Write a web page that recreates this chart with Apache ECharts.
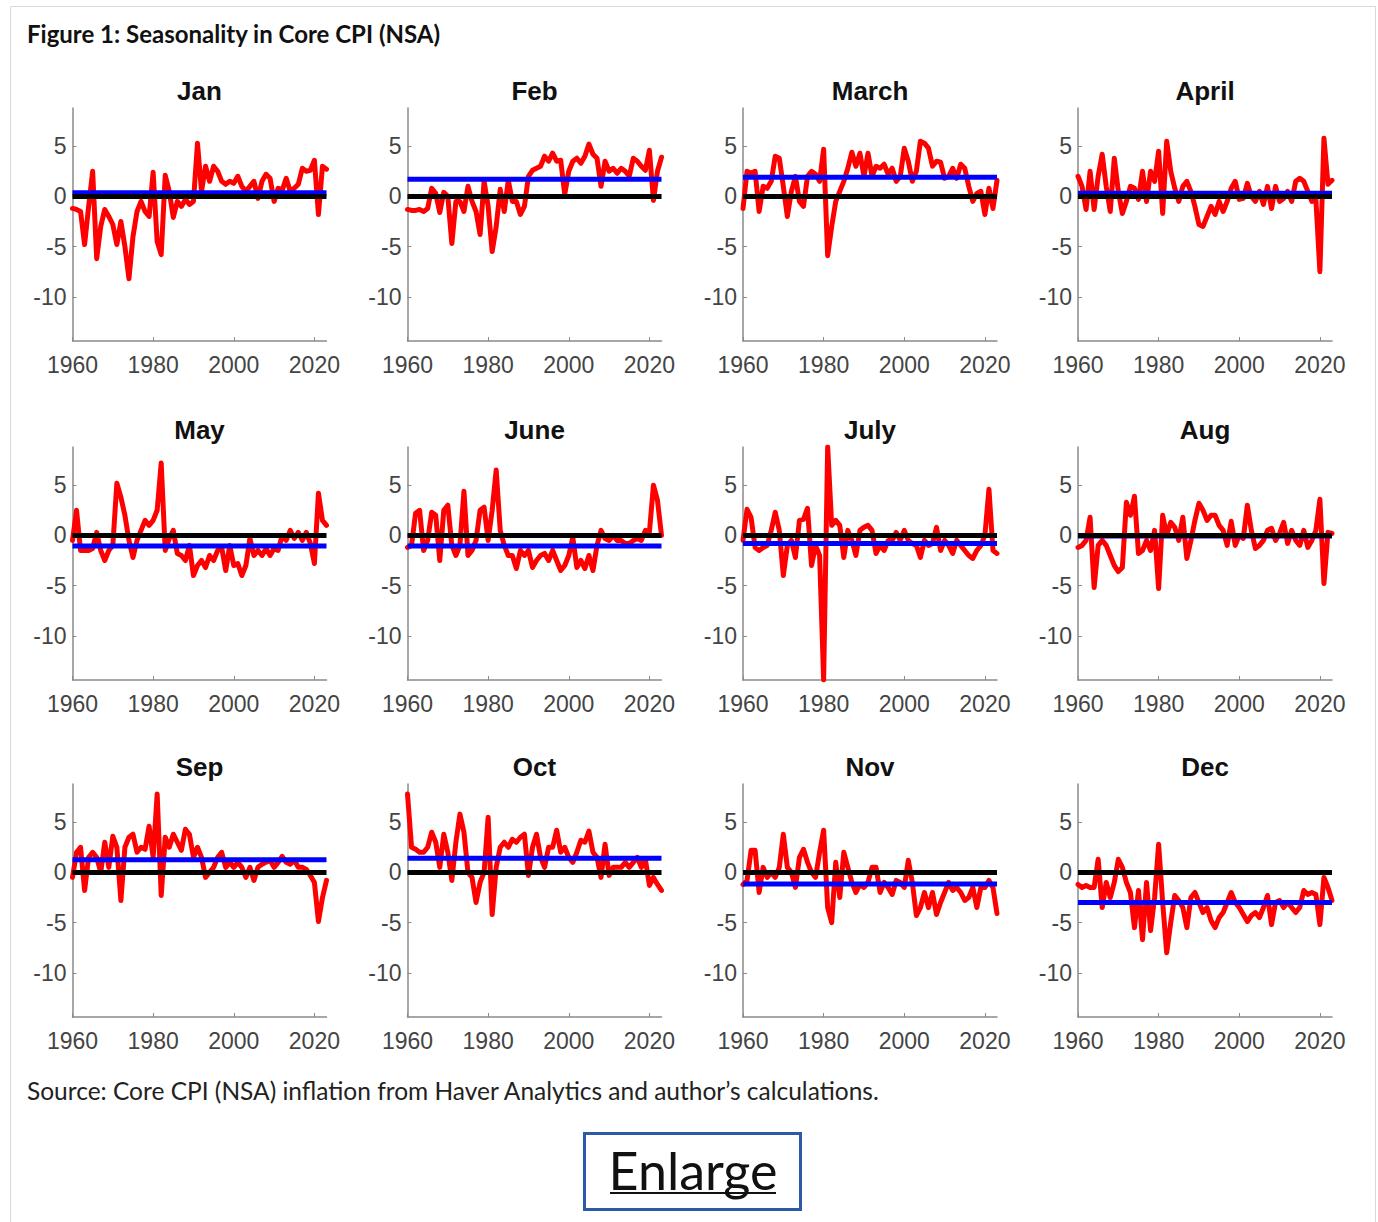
<!DOCTYPE html>
<html>
<head>
<meta charset="utf-8">
<title>Figure 1: Seasonality in Core CPI (NSA)</title>
<script src="https://cdn.jsdelivr.net/npm/echarts@6/dist/echarts.min.js"></script>
<style>
  html, body { margin: 0; padding: 0; background: #fff; }
  #chart { width: 1378px; height: 1222px; }
</style>
</head>
<body>
<div id="chart"></div>
<script>
const years = [
  1960, 1961, 1962, 1963, 1964, 1965, 1966, 1967, 1968, 1969,
  1970, 1971, 1972, 1973, 1974, 1975, 1976, 1977, 1978, 1979,
  1980, 1981, 1982, 1983, 1984, 1985, 1986, 1987, 1988, 1989,
  1990, 1991, 1992, 1993, 1994, 1995, 1996, 1997, 1998, 1999,
  2000, 2001, 2002, 2003, 2004, 2005, 2006, 2007, 2008, 2009,
  2010, 2011, 2012, 2013, 2014, 2015, 2016, 2017, 2018, 2019,
  2020, 2021, 2022, 2023
]

const monthNames = ['Jan', 'Feb', 'March', 'April', 'May', 'June', 'July', 'Aug', 'Sep', 'Oct', 'Nov', 'Dec']

const jan = [
  -1.2, -1.3, -1.5, -4.8, -1.0, 2.5, -6.2, -3.0, -1.3, -2.0,
  -2.8, -4.8, -2.5, -5.0, -8.2, -4.0, -1.5, -0.5, -1.5, -2.0,
  2.4, -4.5, -5.8, 2.1, 0.5, -2.1, -0.5, -1.0, -0.3, -0.8,
  -0.5, 5.3, 0.5, 3.0, 1.5, 3.0, 2.5, 1.5, 1.2, 1.5,
  1.3, 2.0, 1.0, 0.5, 1.0, 1.5, -0.2, 1.5, 2.2, 1.8,
  -0.5, 0.8, 0.6, 1.8, 0.5, 0.8, 1.2, 2.8, 2.5, 2.6,
  3.6, -1.8, 3.0, 2.7
]
const feb = [
  -1.3, -1.4, -1.4, -1.3, -1.5, -1.2, 0.8, 0.3, -1.6, 0.4,
  0.0, -4.7, -0.5, -0.5, -1.5, 1.0, -0.5, -1.5, -3.8, 1.5,
  -1.0, -5.5, -3.0, 0.7, -1.5, 1.6, -0.5, -0.5, -1.8, -1.0,
  2.0, 2.6, 2.8, 3.0, 4.0, 3.5, 4.3, 3.5, 3.6, 0.2,
  2.5, 3.5, 3.8, 3.3, 4.0, 5.2, 4.2, 3.8, 1.0, 3.5,
  2.5, 2.8, 2.3, 2.8, 2.5, 2.0, 3.8, 3.5, 3.0, 2.6,
  4.6, -0.4, 2.5, 3.9
]
const mar = [
  -1.2, 2.5, 2.3, 2.5, -1.5, 1.0, 0.8, 1.5, 4.0, 3.8,
  1.0, -2.0, 0.5, 2.0, -0.5, -1.0, 2.0, 2.5, 2.2, 1.5,
  4.7, -5.9, -3.0, -0.5, 0.5, 1.5, 2.8, 4.4, 3.0, 4.3,
  2.0, 4.3, 2.0, 3.0, 2.8, 3.2, 2.2, 2.8, 1.5, 2.0,
  4.8, 3.5, 1.5, 2.5, 5.5, 5.3, 4.8, 3.0, 3.5, 3.4,
  1.8, 2.0, 2.8, 1.8, 3.2, 2.8, 1.0, -0.5, 0.3, 0.5,
  -1.8, 0.8, -1.2, 1.6
]
const apr = [
  2.0, 1.0, -1.3, 2.5, -1.3, 2.0, 4.2, 1.0, -1.5, 3.8,
  0.5, -1.7, -0.5, 1.0, 0.8, -0.3, 2.5, -0.5, 2.5, 1.5,
  4.5, -1.7, 5.5, 2.5, 0.8, -0.5, 1.0, 1.5, 0.5, -1.0,
  -2.8, -3.0, -2.0, -1.0, -1.8, -0.5, -1.5, -0.5, 0.8, 1.5,
  -0.3, -0.2, 1.3, 0.0, -0.5, 0.5, -0.8, 1.0, -1.2, 1.0,
  -0.5, -0.2, 0.5, -0.5, 1.5, 1.8, 1.5, 0.5, -0.5, -0.3,
  -7.5, 5.8, 1.2, 1.6
]
const may = [
  -0.5, 2.5, -1.5, -1.5, -1.5, -1.3, 0.3, -1.5, -2.5, -1.5,
  -1.0, 5.2, 3.8, 2.0, -0.5, -2.2, -0.5, 0.5, 1.5, 1.0,
  1.5, 2.5, 7.2, -1.5, -0.3, 0.5, -1.8, -2.0, -2.5, -1.0,
  -4.0, -3.0, -2.5, -3.2, -2.0, -2.5, -1.5, -1.2, -3.5, -1.0,
  -3.0, -2.8, -4.0, -3.0, -0.3, -2.0, -1.5, -2.0, -1.3, -2.0,
  -1.3, -1.5, 0.0, -0.5, 0.5, -0.3, 0.3, -0.5, 0.3, -0.8,
  -2.8, 4.2, 1.5, 1.0
]
const jun = [
  -1.2, -1.0, 2.2, 2.5, -1.5, -0.5, 2.3, 2.0, -2.5, 2.5,
  3.0, -1.0, -2.0, -1.0, 4.4, -2.0, -1.5, -0.5, 2.5, 2.8,
  -0.5, 2.5, 6.5, 0.5, -1.0, -2.0, -2.0, -3.3, -1.5, -2.0,
  -1.5, -3.2, -2.5, -2.0, -1.8, -2.5, -1.5, -2.5, -3.5, -3.0,
  -2.0, -0.2, -3.2, -2.5, -3.3, -2.0, -3.5, -1.0, 0.5, -0.3,
  -0.5, 0.0, -0.5, -0.5, -0.8, -0.8, -0.5, -0.3, -0.5, 0.5,
  0.3, 5.0, 3.5, 0.0
]
const jul = [
  -0.5, 2.6, 1.8, -1.2, -1.5, -1.2, -1.0, 0.5, 2.3, 0.5,
  -4.0, -1.0, -0.5, -2.2, 1.5, 1.6, 2.7, -3.0, -1.0, -2.0,
  -14.4, 8.8, 1.0, 1.5, 1.0, -2.2, 0.5, -0.5, -2.0, 0.5,
  0.8, 1.0, 0.5, -1.8, -1.0, -1.5, -0.5, -0.5, 0.3, -0.5,
  0.5, -0.5, -0.8, -1.0, -2.2, -0.5, -1.0, -0.8, 0.8, -1.5,
  -0.5, -1.0, -1.8, -0.5, -1.0, -1.5, -2.0, -2.3, -1.5, -1.0,
  0.0, 4.6, -1.5, -1.8
]
const aug = [
  -1.2, -1.0, -0.5, 1.8, -5.2, -1.0, -0.5, -1.0, -2.0, -3.0,
  -3.6, -3.2, 3.3, 2.0, 3.9, -1.8, -1.5, -0.5, -1.5, 0.5,
  -5.3, 2.0, 0.0, 1.3, 0.8, -0.5, 1.8, -2.3, -0.5, 1.5,
  3.2, 2.5, 1.5, 2.0, 2.0, 1.0, 0.5, -1.0, 1.4, -1.0,
  0.0, -0.3, 3.0, 0.5, -1.3, -1.0, -0.5, 0.5, 0.7, -0.5,
  0.2, 1.3, -0.8, 0.5, -0.5, -1.0, 0.5, -1.2, -0.5, 0.5,
  3.6, -4.8, 0.3, 0.2
]
const sep = [
  -0.5, 2.0, 2.5, -1.8, 1.5, 2.0, 1.5, 0.0, 3.0, 0.5,
  3.6, 2.5, -2.8, 2.5, 3.5, 3.8, 2.0, 2.5, 2.3, 4.6,
  1.5, 7.8, -2.3, 3.5, 2.5, 3.8, 3.0, 2.2, 4.3, 3.8,
  1.5, 2.5, 1.5, -0.5, 0.0, 0.5, 1.5, 2.0, 0.5, 1.0,
  0.5, 1.0, 0.5, -0.5, 0.5, -0.8, 0.5, 0.8, 1.0, 1.2,
  0.5, 1.0, 1.6, 1.0, 0.8, 1.2, 0.5, 0.5, 0.3, -0.3,
  -1.0, -4.9, -2.5, -0.8
]
const oct = [
  7.8, 2.5, 2.3, 2.0, 2.0, 2.5, 4.0, 3.0, 0.5, 3.8,
  2.0, -0.8, 3.0, 5.8, 4.0, 0.0, -0.5, -3.0, -1.0, 0.0,
  5.5, -4.2, 0.5, 2.5, 3.0, 2.5, 3.3, 3.0, 3.5, 3.8,
  -0.3, 2.5, 3.8, 1.5, 0.5, 2.5, 2.5, 4.2, 2.0, 2.5,
  1.5, 1.0, 2.0, 3.2, 3.0, 4.1, 2.0, 1.5, -0.5, 2.8,
  -0.3, 0.5, 0.5, 0.5, 1.0, 0.5, 1.0, 1.5, 0.5, 1.3,
  -1.3, -0.5, -1.2, -1.8
]
const nov = [
  -1.2, -0.8, 2.2, 2.2, -2.0, 0.5, -0.5, 0.0, -0.5, 0.5,
  3.8, 0.5, 0.0, -1.5, 1.5, 2.3, 1.0, 0.0, -0.5, 2.0,
  4.2, -3.5, -5.0, 1.0, -2.5, 2.0, 0.5, -1.0, -2.0, -1.2,
  -1.5, -1.0, 0.5, 0.5, -2.0, -1.0, -1.5, -2.2, -0.8, -1.0,
  -1.5, 1.2, -1.0, -4.3, -3.5, -2.0, -3.5, -2.0, -4.2, -3.0,
  -2.0, -1.0, -1.8, -1.5, -2.0, -2.8, -2.5, -1.5, -3.5, -1.5,
  -1.5, -0.8, -1.5, -4.1
]
const dec = [
  -1.2, -1.5, -1.3, -1.5, -1.5, 1.3, -3.5, -1.0, -2.5, -1.0,
  1.3, 0.5, -1.0, -2.0, -5.5, -1.8, -6.7, -1.0, -5.8, -2.5,
  2.8, -3.0, -8.0, -5.0, -2.3, -2.8, -3.5, -5.5, -2.5, -2.0,
  -3.0, -4.0, -3.5, -4.8, -5.5, -4.5, -4.0, -3.0, -2.0, -3.0,
  -3.5, -4.2, -4.9, -4.3, -4.0, -4.5, -3.5, -2.3, -5.2, -3.0,
  -2.8, -3.5, -3.0, -3.5, -4.0, -3.5, -1.8, -2.2, -2.0, -2.2,
  -5.2, -0.5, -1.5, -2.8
]

// blue line: average seasonal effect for each month
const monthMeans = [0.35, 1.7, 1.9, 0.3, -1.05, -1.05, -0.8, -0.05, 1.25, 1.4, -1.15, -3.0]

const xTicks = [1960, 1980, 2000, 2020]
const yTicks = [-10, -5, 0, 5]

const monthData = [jan, feb, mar, apr, may, jun, jul, aug, sep, oct, nov, dec]

const colLeft = [72.5, 407.5, 743, 1078]
const rowTop = [108, 447, 784]
const plotW = 254
const plotH = 233
const axisFont = '"Liberation Sans", Arial, sans-serif'
const axisGray = '#8a8a8a'

const grids = []
const xAxes = []
const yAxes = []
const series = []
const graphics = []

monthNames.forEach(function(name, i) {
  const left = colLeft[i % 4]
  const top = rowTop[Math.floor(i / 4)]
  grids.push({ left: left, top: top, width: plotW, height: plotH })
  xAxes.push({
    gridIndex: i,
    type: 'value',
    min: 1960,
    max: 2023,
    axisLine: { show: true, onZero: false, lineStyle: { color: axisGray, width: 1.5 } },
    axisTick: { show: true, inside: true, length: 4, customValues: xTicks, lineStyle: { color: axisGray } },
    axisLabel: {
      customValues: xTicks,
      formatter: function(v) { return String(v) },
      margin: 12, fontSize: 23, color: '#444', fontFamily: axisFont
    },
    splitLine: { show: false }
  })
  yAxes.push({
    gridIndex: i,
    type: 'value',
    min: -14.4,
    max: 8.8,
    axisLine: { show: true, onZero: false, lineStyle: { color: axisGray, width: 1.5 } },
    axisTick: { show: true, inside: true, length: 4, customValues: yTicks, lineStyle: { color: axisGray } },
    axisLabel: {
      customValues: yTicks, margin: 6, fontSize: 23, color: '#444', fontFamily: axisFont
    },
    splitLine: { show: false }
  })
  series.push({
    type: 'line',
    xAxisIndex: i,
    yAxisIndex: i,
    data: years.map(function(y, k) { return [y, monthData[i][k]] }),
    showSymbol: false,
    lineStyle: { color: '#ff0000', width: 5, join: 'round', cap: 'round' },
    z: 2
  })
  series.push({
    type: 'line',
    xAxisIndex: i,
    yAxisIndex: i,
    data: [[1960, monthMeans[i]], [2023, monthMeans[i]]],
    showSymbol: false,
    lineStyle: { color: '#0000ff', width: 5 },
    z: 3
  })
  series.push({
    type: 'line',
    xAxisIndex: i,
    yAxisIndex: i,
    data: [[1960, 0], [2023, 0]],
    showSymbol: false,
    lineStyle: { color: '#000000', width: 5 },
    z: 4
  })
  graphics.push({
    type: 'text',
    x: left + plotW / 2,
    y: top - 17,
    style: {
      text: name,
      textAlign: 'center',
      textVerticalAlign: 'middle',
      fill: '#111',
      font: 'bold 26px "Liberation Sans", Arial, sans-serif'
    }
  })
})

// figure frame, caption, source note and the Enlarge link
graphics.push({
  type: 'rect',
  shape: { x: 10.5, y: 6.5, width: 1365, height: 1230 },
  style: { fill: 'none', stroke: '#d9d9d9', lineWidth: 1 },
  z: -1
})
graphics.push({
  type: 'text',
  x: 27,
  y: 33,
  style: {
    text: 'Figure 1: Seasonality in Core CPI (NSA)',
    textVerticalAlign: 'middle',
    fill: '#111',
    font: 'bold 24px Lato, "Open Sans", sans-serif'
  }
})
graphics.push({
  type: 'text',
  x: 27,
  y: 1090,
  style: {
    text: 'Source: Core CPI (NSA) inflation from Haver Analytics and author\u2019s calculations.',
    textVerticalAlign: 'middle',
    fill: '#222',
    font: '24.5px Lato, "Open Sans", sans-serif'
  }
})
graphics.push({
  type: 'rect',
  shape: { x: 584.5, y: 1133.5, width: 216, height: 76 },
  style: { fill: '#fff', stroke: '#2d5aa6', lineWidth: 3 }
})
graphics.push({
  type: 'text',
  x: 693,
  y: 1170,
  style: {
    text: 'Enlarge',
    textAlign: 'center',
    textVerticalAlign: 'middle',
    fill: '#111',
    font: '52px Lato, "Open Sans", sans-serif'
  }
})
graphics.push({
  type: 'line',
  shape: { x1: 610, y1: 1193, x2: 776, y2: 1193 },
  style: { stroke: '#111', lineWidth: 2 }
})

const chart = echarts.init(document.getElementById('chart'), null, { renderer: 'svg' })
chart.setOption({
  animation: false,
  backgroundColor: '#fff',
  grid: grids,
  xAxis: xAxes,
  yAxis: yAxes,
  series: series,
  graphic: graphics
})
</script>
</body>
</html>
